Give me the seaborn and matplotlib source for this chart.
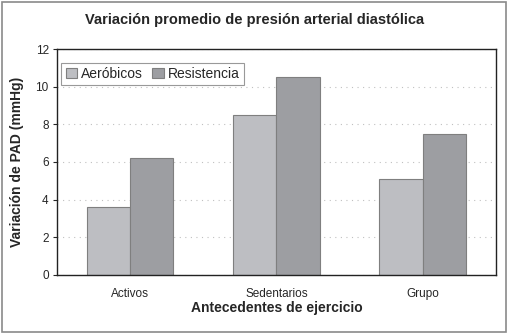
import pandas as pd
import matplotlib.pyplot as plt
import seaborn as sns

categorias = ["Activos", "Sedentarios", "Grupo"]
aerobicos = [3.6, 8.5, 5.1]
resistencia = [6.2, 10.5, 7.5]
series = ["Aeróbicos", "Resistencia"]

df = pd.DataFrame({
    "Antecedentes": categorias * 2,
    "Variacion": aerobicos + resistencia,
    "Serie": [series[0]] * 3 + [series[1]] * 3,
})

sns.set_style("white")
plt.rcParams["font.family"] = ["Liberation Sans", "DejaVu Sans"]

fig = plt.figure(figsize=(5.09, 3.34), dpi=100)
ax = fig.add_axes([0.112, 0.177, 0.862, 0.676])

sns.barplot(data=df, x="Antecedentes", y="Variacion", hue="Serie",
            palette=["#bdbec2", "#9d9ea2"], edgecolor="#7f7f7f", linewidth=0.8,
            width=0.59, saturation=1, ax=ax)

ax.set_ylim(0, 12)
ax.set_yticks(range(0, 13, 2))
ax.yaxis.grid(True, linestyle=(0, (1, 4)), color="#c0c0c0", linewidth=0.8)
ax.set_axisbelow(True)
for s in ax.spines.values():
    s.set_color("#222222")
    s.set_linewidth(1.0)
ax.tick_params(axis="y", left=True, length=3, width=0.8, labelsize=8.5, pad=3)
ax.tick_params(axis="x", bottom=False, labelsize=8.5, pad=6)

ax.set_xlabel("Antecedentes de ejercicio", fontsize=10, fontweight="bold", labelpad=1)
ax.set_ylabel("Variación de PAD (mmHg)", fontsize=10, fontweight="bold", labelpad=8)
fig.suptitle("Variación promedio de presión arterial diastólica",
             fontsize=10.5, fontweight="bold", y=0.96)

leg = ax.legend(loc="upper left", bbox_to_anchor=(0.01, 0.94), ncol=2, fontsize=10,
                frameon=True, fancybox=False, handlelength=0.8, handleheight=0.8,
                handletextpad=0.3, columnspacing=0.7, borderpad=0.3,
                borderaxespad=0)
leg.get_frame().set_edgecolor("#808080")
leg.get_frame().set_linewidth(0.8)

fig.patches.append(plt.Rectangle((0.004, 0.006), 0.99, 0.988, transform=fig.transFigure,
                                 fill=False, edgecolor="#8a8a8a", linewidth=1.2))

fig.savefig("out.png", dpi=100)
